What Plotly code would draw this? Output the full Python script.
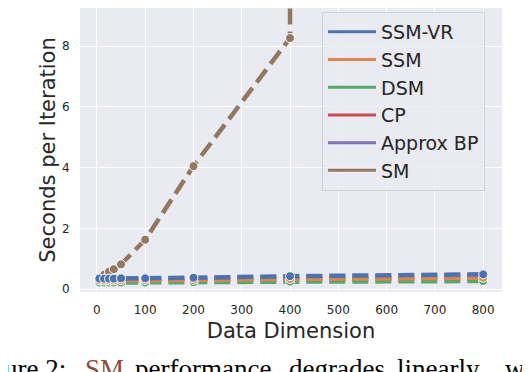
import plotly.graph_objects as go

# data dimension on x
dims = [5, 15, 25, 35, 50, 100, 200, 400, 800]
sm_dims = [5, 15, 25, 35, 50, 100, 200, 400, 400]

# seconds per iteration
ssm_vr = [0.35, 0.35, 0.35, 0.35, 0.36, 0.36, 0.38, 0.43, 0.49]
ssm = [0.29, 0.29, 0.29, 0.29, 0.30, 0.30, 0.31, 0.34, 0.38]
dsm = [0.22, 0.22, 0.22, 0.22, 0.22, 0.22, 0.23, 0.25, 0.27]
cp = [0.28, 0.28, 0.28, 0.28, 0.29, 0.29, 0.30, 0.33, 0.36]
approx_bp = [0.33, 0.33, 0.33, 0.33, 0.34, 0.34, 0.36, 0.40, 0.46]
sm = [0.38, 0.48, 0.58, 0.66, 0.82, 1.63, 4.05, 8.26, 15.0]

names = ["SSM-VR", "SSM", "DSM", "CP", "Approx BP", "SM"]
colors = ["#4C72B0", "#DD8452", "#55A868", "#C44E52", "#8172B3", "#937860"]
series = [(dims, ssm_vr), (dims, ssm), (dims, dsm), (dims, cp),
          (dims, approx_bp), (sm_dims, sm)]

text_col = "#262626"
font = "DejaVu Sans"

fig = go.Figure()

# draw SM first and SSM-VR last so blue ends up on top like the original
for name, col, (xs, ys) in reversed(list(zip(names, colors, series))):
    fig.add_trace(go.Scatter(
        x=xs, y=ys, mode="lines+markers", name=name, showlegend=False,
        line=dict(color=col, width=4.5, dash="16px,7px"),
        marker=dict(size=9, color=col, line=dict(color="white", width=1))))

# legend entries: solid lines without markers
for name, col in zip(names, colors):
    fig.add_trace(go.Scatter(
        x=[None], y=[None], mode="lines", name=name,
        line=dict(color=col, width=3)))

# caption fragment from the paper, cut off at the bottom
caption = [("Figure 2:", -34, "black"), ("SM", 83, "#8c4b3f"),
           ("performance", 133, "black"), ("degrades", 287, "black"),
           ("linearly", 395, "black"), ("with", 503, "black")]
for word, px, col in caption:
    fig.add_annotation(
        text=word, xref="paper", yref="paper",
        x=(px - 80) / 422, y=-0.271, xanchor="left", yanchor="middle",
        showarrow=False,
        font=dict(family="Liberation Serif", size=27, color=col))

# the page puts the figure 8px in from the top-left, so margins are offset
fig.update_layout(
    width=530, height=372,
    margin=dict(l=72, r=36, t=0, b=88, autoexpand=False),
    paper_bgcolor="white", plot_bgcolor="#EAEAF2",
    font=dict(family=font, color=text_col),
    showlegend=True,
    legend=dict(x=0.5735, y=0.986, xanchor="left", yanchor="top",
                itemwidth=48,
                bgcolor="rgba(234,234,242,0.8)", bordercolor="#d2d2da",
                borderwidth=1, font=dict(size=19, color=text_col)),
)
fig.update_xaxes(
    range=[-35, 839], tickvals=[0, 100, 200, 300, 400, 500, 600, 700, 800],
    gridcolor="white", gridwidth=1.2, zeroline=False, showline=False,
    tickfont=dict(size=12, color=text_col),
    ticks="outside", ticklen=7, tickcolor="rgba(0,0,0,0)",
    title=dict(text="Data Dimension", font=dict(size=21, color=text_col),
               standoff=6))
fig.update_yaxes(
    range=[-0.09, 9.25], tickvals=[0, 2, 4, 6, 8],
    gridcolor="white", gridwidth=1.2, zeroline=False, showline=False,
    tickfont=dict(size=12, color=text_col),
    ticks="outside", ticklen=7, tickcolor="rgba(0,0,0,0)",
    title=dict(text="Seconds per Iteration", font=dict(size=21, color=text_col),
               standoff=0))

fig.write_html("out.html")
